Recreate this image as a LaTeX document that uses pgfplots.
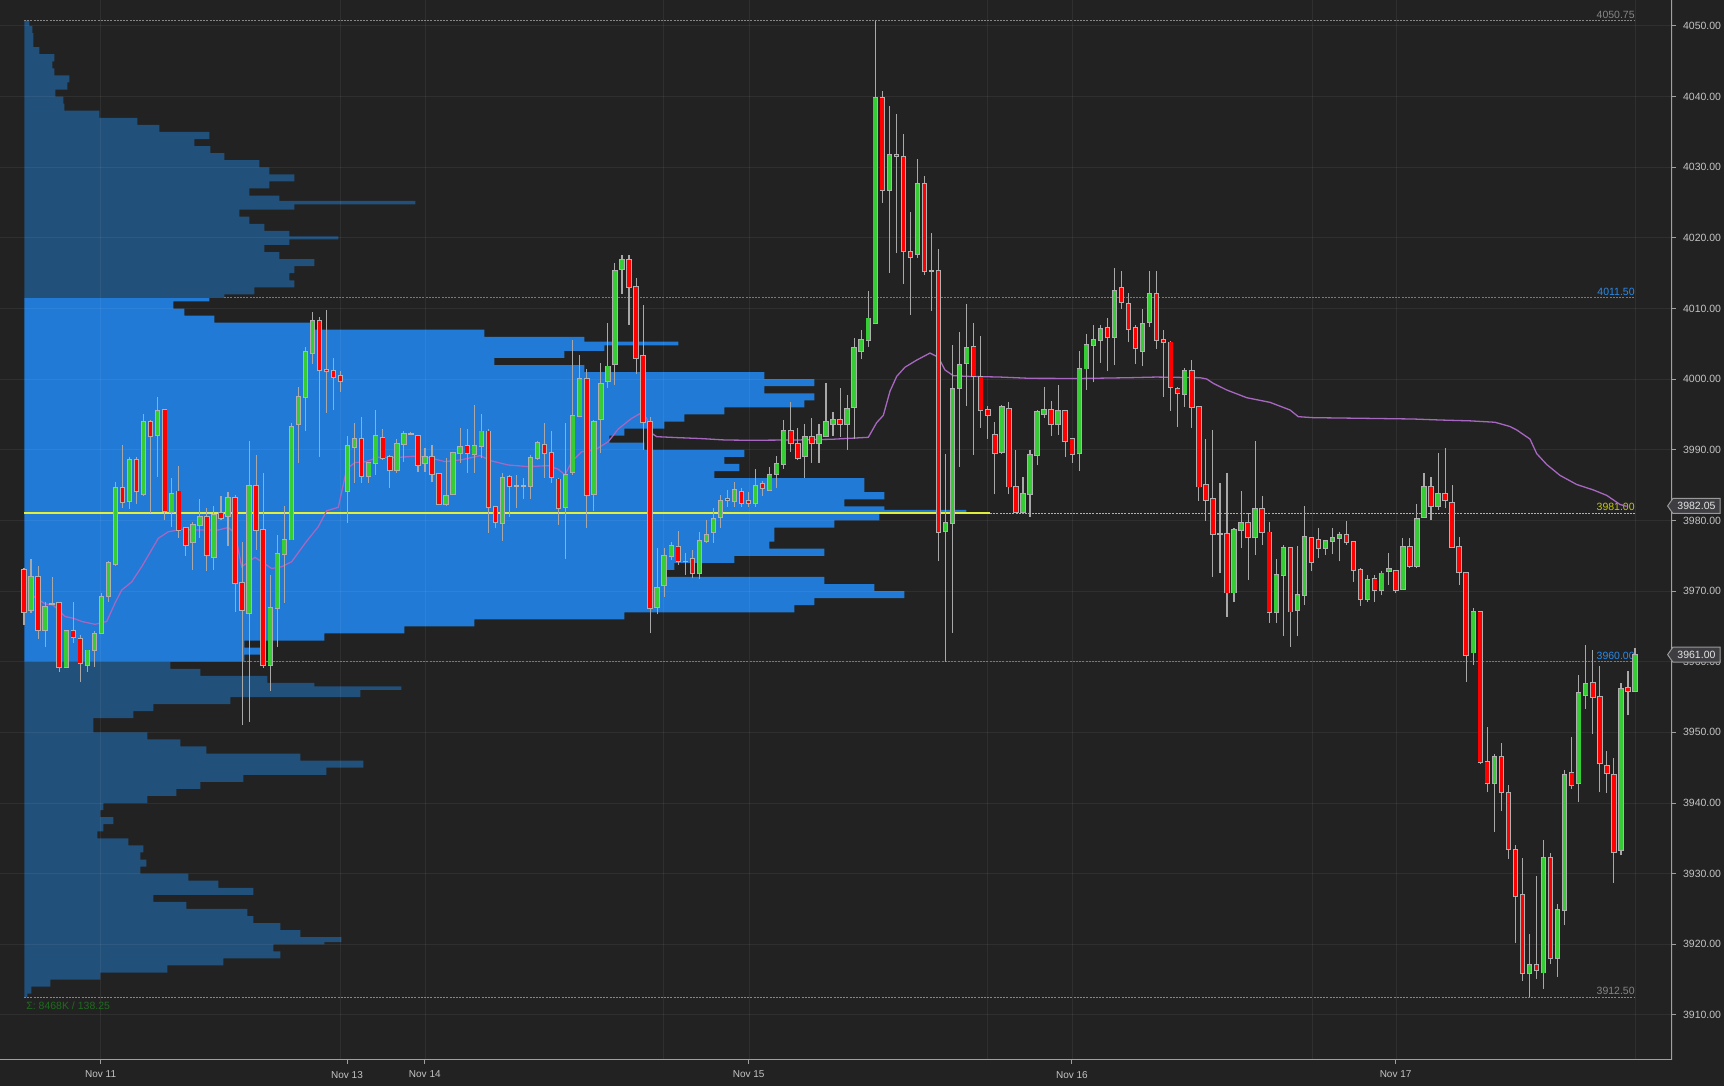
\documentclass[border=0pt]{standalone}
\usepackage{fontspec}
\setmainfont{Liberation Sans}
\usepackage{pgfplots}
\usepackage{pgfplotstable}
\pgfplotsset{compat=1.18}
\usetikzlibrary{shapes.symbols}
\definecolor{bg}{HTML}{222222}
\definecolor{vabright}{HTML}{207AD6}
\definecolor{vadark}{HTML}{21507A}
\definecolor{candG}{HTML}{36CC36}
\definecolor{candR}{HTML}{FF0000}
\definecolor{outc}{HTML}{B0B0B0}
\definecolor{wickc}{HTML}{A8A8A8}
\definecolor{vwapc}{HTML}{A766C0}
\definecolor{tickc}{HTML}{C4C4C4}
\definecolor{axc}{HTML}{A0A0A0}
\definecolor{lvlgray}{HTML}{868686}
\definecolor{lvlblue}{HTML}{2A8AE8}
\definecolor{pocc}{HTML}{E2EE3C}
\definecolor{lvlyel}{HTML}{C8C800}
\definecolor{sumc}{HTML}{1E6B1E}
\definecolor{boxfill}{HTML}{3E3E42}
\definecolor{boxdraw}{HTML}{9A9A9A}
\definecolor{boxtext}{HTML}{E4E4E4}

\pgfplotstableread{
O H L C
3973.0 3973.3 3965.2 3967.0
3967.3 3974.5 3966.9 3972.0
3972.0 3973.5 3963.2 3964.5
3964.5 3968.5 3962.1 3967.8
3968.2 3972.0 3968.0 3968.2
3968.3 3968.5 3958.5 3959.3
3959.3 3964.3 3959.2 3964.3
3964.3 3968.5 3962.6 3963.5
3963.2 3963.8 3957.2 3959.8
3959.5 3961.7 3958.5 3961.6
3961.6 3964.3 3959.3 3963.9
3964.1 3969.7 3963.9 3969.2
3969.3 3974.2 3968.5 3974.0
3973.8 3985.4 3973.5 3984.6
3984.6 3990.7 3981.7 3982.6
3982.8 3989.0 3981.6 3988.5
3988.5 3989.0 3982.4 3984.1
3983.7 3995.0 3983.4 3994.0
3994.0 3994.2 3981.0 3991.9
3992.1 3997.5 3986.2 3995.5
3995.7 3995.8 3980.1 3981.3
3981.2 3986.0 3979.1 3983.7
3984.1 3987.7 3977.5 3978.7
3979.0 3979.1 3974.9 3976.5
3976.9 3979.8 3973.0 3979.3
3979.4 3983.1 3977.5 3980.5
3980.5 3981.7 3972.8 3975.1
3974.8 3982.0 3973.0 3980.8
3981.0 3983.4 3980.1 3980.3
3980.6 3984.0 3976.4 3983.2
3983.2 3983.6 3967.0 3971.1
3971.2 3977.0 3951.0 3967.3
3966.9 3991.3 3951.5 3984.9
3984.9 3989.3 3975.8 3978.7
3978.7 3986.7 3959.1 3959.5
3959.5 3972.3 3955.8 3967.6
3967.6 3977.9 3962.1 3975.3
3975.3 3982.0 3968.3 3977.3
3977.3 3993.8 3977.2 3993.3
3993.7 3998.9 3988.2 3997.5
3997.5 4004.6 3992.6 4003.8
4003.7 4009.5 4002.2 4008.3
4008.3 4008.8 3989.0 4001.3
4001.3 4009.8 3995.2 4001.1
4001.1 4003.0 3995.6 4000.3
4000.5 4001.1 3998.2 3999.7
3984.1 3991.9 3979.6 3990.5
3990.4 3993.8 3985.3 3991.5
3991.5 3994.7 3985.3 3986.3
3986.3 3988.3 3985.3 3988.1
3988.1 3995.6 3986.4 3992.0
3991.7 3993.0 3988.6 3988.9
3989.0 3989.3 3984.6 3987.1
3987.1 3991.5 3986.7 3990.8
3990.8 3992.6 3988.3 3992.2
3992.2 3992.5 3992.1 3992.2
3992.0 3992.1 3986.8 3987.9
3988.1 3990.2 3986.9 3989.0
3989.0 3990.7 3985.4 3986.6
3986.6 3986.7 3982.2 3982.3
3982.3 3988.8 3982.0 3983.5
3983.8 3989.7 3983.6 3989.5
3989.5 3993.1 3988.1 3990.4
3990.5 3993.0 3986.7 3989.5
3989.4 3996.4 3986.7 3990.5
3990.5 3995.0 3988.8 3992.6
3992.6 3992.9 3978.2 3981.9
3981.9 3982.0 3979.0 3979.8
3979.6 3986.7 3977.1 3986.0
3986.2 3986.4 3980.5 3984.9
3984.9 3986.4 3981.7 3984.9
3984.9 3986.0 3983.1 3984.9
3984.9 3989.2 3983.1 3988.8
3988.9 3991.3 3988.6 3991.0
3990.7 3993.8 3986.0 3989.5
3989.5 3992.6 3985.3 3986.1
3985.8 3986.0 3979.4 3981.7
3981.9 3993.8 3974.6 3986.5
3986.8 4005.6 3986.4 3994.8
3994.8 4003.4 3994.8 4000.0
4000.0 4001.5 3979.0 3983.6
3983.7 3994.2 3981.3 3994.0
3994.4 4002.3 3989.5 3999.3
3999.7 4007.9 3998.7 4001.8
4002.1 4016.4 3999.2 4015.3
4015.6 4017.6 4012.0 4016.9
4016.9 4017.6 4007.7 4013.1
4013.1 4014.3 4000.8 4003.0
4003.3 4010.5 3990.0 3993.9
3994.0 3994.7 3964.0 3967.6
3967.8 3976.1 3966.7 3970.5
3970.9 3976.1 3969.2 3975.0
3974.9 3976.9 3974.4 3976.4
3976.3 3978.5 3973.7 3974.2
3974.2 3975.4 3972.3 3974.2
3974.5 3975.8 3971.8 3972.5
3972.5 3978.4 3971.7 3977.1
3977.1 3980.1 3976.8 3978.0
3978.4 3981.7 3976.8 3980.2
3980.5 3983.6 3979.0 3982.8
3983.0 3984.3 3981.9 3982.9
3982.8 3985.5 3981.9 3984.3
3984.0 3984.6 3981.9 3982.5
3982.8 3984.0 3981.9 3982.5
3982.5 3987.3 3981.9 3984.9
3985.2 3985.6 3983.5 3984.6
3984.3 3987.6 3984.3 3986.5
3986.6 3989.1 3984.6 3988.0
3988.0 3994.2 3987.3 3992.7
3992.7 3996.7 3989.7 3990.9
3990.8 3993.1 3988.5 3988.8
3989.1 3993.7 3986.0 3991.8
3991.8 3994.5 3988.2 3990.9
3990.9 3993.6 3988.2 3992.1
3992.0 3999.5 3991.8 3993.9
3993.6 3995.4 3992.0 3994.2
3994.2 3998.7 3991.8 3993.7
3993.7 3997.7 3990.0 3995.8
3996.1 4005.9 3991.5 4004.4
4004.0 4007.0 4002.8 4005.6
4005.6 4012.5 4004.6 4008.6
4008.0 4050.75 4007.9 4039.8
4039.8 4040.8 4025.0 4026.8
4026.8 4038.7 4015.0 4031.7
4031.7 4037.5 4017.8 4031.6
4031.5 4034.7 4013.5 4018.1
4018.0 4023.7 4009.1 4017.3
4017.7 4031.2 4017.2 4027.7
4027.7 4028.7 4014.7 4015.3
4015.3 4020.7 4009.7 4015.3
4015.3 4018.4 3974.2 3978.4
3978.5 3989.4 3960.0 3979.6
3979.6 4004.9 3964.1 3998.6
3998.8 4006.7 3987.6 4002.0
4002.3 4010.7 3996.2 4004.4
4004.6 4008.0 3989.3 4000.5
4000.3 4006.1 3993.1 3995.6
3995.6 3996.2 3991.6 3994.9
3992.1 3994.0 3983.7 3989.6
3989.7 3996.3 3989.4 3996.1
3995.8 3996.8 3983.7 3984.8
3984.8 3990.0 3981.0 3981.2
3981.2 3986.2 3980.9 3983.7
3983.7 3990.0 3980.5 3989.3
3989.3 3995.6 3987.8 3995.3
3995.0 3998.9 3994.5 3995.7
3995.7 3996.9 3992.0 3993.6
3993.6 3999.2 3992.1 3995.5
3995.5 3995.6 3989.0 3991.3
3991.5 3991.6 3988.1 3989.4
3989.5 4004.0 3987.0 4001.5
4001.5 4006.4 3998.5 4004.8
4004.8 4007.7 3999.6 4005.6
4005.6 4007.7 4002.3 4007.1
4007.3 4008.7 4001.1 4005.9
4005.9 4015.7 4002.0 4012.5
4012.9 4015.3 4010.0 4010.9
4010.6 4012.2 4005.2 4007.1
4007.3 4007.7 4002.2 4004.4
4004.0 4009.9 4001.8 4007.8
4008.1 4015.3 4007.4 4012.0
4012.0 4015.3 4004.3 4005.6
4005.6 4007.0 3997.5 4005.2
4005.2 4005.4 3995.5 3998.9
3998.6 3998.9 3993.3 3998.0
3997.9 4001.6 3996.1 4001.1
4001.1 4002.7 3993.1 3996.1
3996.1 3996.2 3982.8 3984.8
3985.0 3991.5 3979.9 3982.9
3983.0 3992.8 3972.0 3978.1
3978.1 3985.3 3972.5 3978.1
3978.1 3986.7 3966.3 3969.8
3969.8 3978.9 3968.5 3978.7
3978.7 3984.2 3976.1 3979.7
3979.7 3981.0 3971.6 3977.6
3977.6 3991.3 3975.1 3981.6
3981.6 3983.4 3976.5 3978.4
3978.3 3979.8 3965.5 3967.0
3967.0 3974.5 3965.5 3972.3
3972.3 3976.5 3963.6 3976.1
3976.1 3976.1 3962.1 3967.1
3967.3 3976.4 3963.6 3969.5
3969.5 3982.0 3968.0 3977.7
3977.5 3977.6 3972.8 3974.1
3977.2 3978.9 3974.7 3976.1
3976.1 3977.1 3975.1 3977.1
3977.1 3978.9 3975.2 3977.5
3977.5 3978.4 3974.2 3978.0
3978.0 3979.9 3976.5 3976.9
3976.9 3977.1 3971.3 3973.0
3973.0 3973.2 3967.9 3968.9
3968.9 3972.3 3968.5 3971.6
3971.7 3972.3 3968.5 3970.2
3970.2 3972.9 3969.4 3972.5
3972.8 3975.4 3970.9 3973.1
3972.8 3973.0 3969.8 3970.2
3970.3 3977.5 3970.2 3976.2
3976.3 3977.5 3973.2 3973.6
3973.6 3982.4 3973.2 3980.2
3980.5 3986.7 3980.5 3984.8
3984.8 3986.2 3980.0 3982.0
3982.0 3989.5 3981.5 3983.8
3983.7 3990.2 3981.7 3982.9
3982.5 3985.0 3976.2 3976.2
3976.3 3977.6 3970.8 3972.7
3972.6 3972.7 3957.2 3961.0
3961.3 3967.6 3959.5 3967.0
3967.0 3967.1 3945.5 3945.8
3945.8 3950.7 3941.5 3942.8
3942.8 3947.0 3935.9 3946.5
3946.5 3948.5 3938.8 3941.5
3941.4 3942.6 3932.1 3933.5
3933.3 3934.1 3920.2 3926.8
3927.0 3932.2 3914.8 3915.9
3915.9 3921.4 3912.5 3917.1
3917.1 3929.6 3915.1 3916.3
3916.0 3934.7 3913.7 3932.2
3932.2 3932.9 3917.2 3918.0
3918.0 3925.7 3915.4 3924.8
3924.8 3944.7 3922.7 3944.0
3944.2 3949.4 3942.0 3942.6
3942.8 3958.1 3940.1 3955.6
3955.3 3962.4 3953.3 3956.8
3957.0 3961.7 3949.8 3955.0
3955.0 3959.4 3941.5 3945.6
3945.2 3947.3 3941.4 3944.3
3944.0 3946.4 3928.7 3933.0
3933.3 3957.0 3932.6 3956.2
3956.3 3958.7 3952.4 3955.9
3955.9 3961.9 3955.8 3961.0
}\ohlc

\pgfplotstableread{
w p
3 3912.5
7 3913
26 3914
76 3915
143 3916
199 3917
256 3918
249 3919
300 3920
317 3920.3
276 3921
256 3922
229 3923
223 3924
162 3925
129 3926
229 3927
194 3928
164 3929
116 3930
122 3931
116 3932
119 3933
104 3934
73 3935
79 3936
89 3937
76 3938
79 3939
123 3940
152 3941
176 3942
219 3943
302 3944
339 3945
276 3946
182 3947
156 3948
123 3949
69 3950
69 3951
109 3952
129 3953
206 3954
336 3955
377 3956
290 3956.5
243 3957
176 3958
146 3959
0 3960
}\profLow

\pgfplotstableread{
w p
220 3960
240 3961
220 3962
300 3963
380 3964
450 3965
600 3966
770 3967
790 3968
880 3969
850 3970
800 3971
640 3972
650 3973
710 3974
800 3975
745 3976
750 3977
750 3978
810 3979
855 3980
942 3981
860 3981.5
820 3982
860 3983
840 3984
840 3985
690 3986
715 3987
700 3988
720 3989
620 3990
585 3991
600 3992
640 3993
660 3994
700 3995
780 3996
790 3997
740 3998
790 3999
740 4000
560 4001
470 4002
540 4003
580 4004
654 4004.8
560 4005.3
460 4006
290 4007
190 4008
160 4009
149 4010
185 4011
0 4011.5
}\profVA

\pgfplotstableread{
w p
200 4011.5
230 4012
270 4013
265 4014
270 4015
290 4016
255 4017
240 4018
265 4019
314 4019.8
265 4020.2
240 4021
225 4022
215 4023
270 4024
391 4024.75
255 4025.25
225 4026
245 4027
270 4028
245 4029
235 4030
200 4031
186 4032
170 4033
185 4034
135 4035
113 4036
75 4037
40 4038
39 4039
31 4040
43 4041
45 4042
30 4043
28 4044
30 4045
15 4046
9 4047
9 4048
8 4049
5 4050
0 4050.75
}\profUp

\pgfplotsset{
  candle/.style={only marks, mark=*, mark size=0pt,
    mark options={draw=none, fill=none}, forget plot},
}

\begin{document}
\begin{tikzpicture}
\fill[bg] (0,-13pt) rectangle (862pt,530pt);
% volume profile
\begin{axis}[at={(0,0)}, anchor=south west, scale only axis,
  width=836pt, height=530pt,
  xmin=-24.3, xmax=1647.7, ymin=3903.62, ymax=4053.68, hide axis]
\addplot[xbar interval, fill=vadark, draw=none] table[x=w, y=p] {\profLow};
\addplot[xbar interval, fill=vabright, draw=none] table[x=w, y=p] {\profVA};
\addplot[xbar interval, fill=vadark, draw=none] table[x=w, y=p] {\profUp};
\end{axis}
% price chart
\begin{axis}[at={(0,0)}, anchor=south west, scale only axis,
  width=836pt, height=530pt,
  xmin=0, xmax=1672, ymin=3903.62, ymax=4053.68,
  axis line style={draw=none},
  ytick={3910,3920,...,4050}, ytick pos=right, yticklabel pos=right,
  xtick={100.6,347,424.8,748.7,1071.9,1395.6},
  xticklabels={Nov 11,Nov 13,Nov 14,Nov 15,Nov 16,Nov 17},
  xtick pos=left, xticklabel pos=left,
  tick align=outside, major tick length=2pt,
  tick style={color=axc, line width=0.5pt},
  ymajorgrids, grid style={white, opacity=0.06, line width=0.5pt},
  scaled y ticks=false,
  /pgf/number format/assume math mode=true,
  yticklabel style={font=\fontsize{5.25}{6}\selectfont, text=tickc,
    /pgf/number format/fixed, /pgf/number format/fixed zerofill,
    /pgf/number format/precision=2, /pgf/number format/1000 sep={}},
  xticklabel style={font=\fontsize{5}{6}\selectfont, text=tickc},
]
% vertical session grid
\pgfplotsinvokeforeach{100,340,425,663,749,987,1072,1312,1396,1635}{
  \draw[white, opacity=0.06, line width=0.5pt] (axis cs:#1,3903.62) -- (axis cs:#1,4053.68);
}
% axis lines
\draw[axc, line width=0.75pt] (rel axis cs:1,0) -- (rel axis cs:1,1);
\draw[axc, line width=0.75pt] (rel axis cs:0,0) -- (rel axis cs:1,0);
% level lines
\addplot[lvlgray, line width=0.5pt, dash pattern=on 1pt off 0.6pt] coordinates {(24,4050.75) (1635,4050.75)};
\addplot[lvlgray, line width=0.5pt, dash pattern=on 1pt off 0.6pt] coordinates {(24,3912.5) (1635,3912.5)};
\addplot[lvlblue, line width=0.5pt, dash pattern=on 1pt off 0.6pt] coordinates {(224,4011.5) (1635,4011.5)};
\addplot[lvlblue, line width=0.5pt, dash pattern=on 1pt off 0.6pt] coordinates {(244,3960) (1635,3960)};
\addplot[lvlyel, line width=0.5pt, dash pattern=on 1pt off 0.6pt] coordinates {(990,3981) (1635,3981)};
\addplot[pocc, line width=1pt] coordinates {(24,3981) (990,3981)};
% level labels
\node[anchor=south east, inner sep=0pt, yshift=1pt, font=\fontsize{5.25}{6}\selectfont, text=lvlgray] at (axis cs:1635,4050.75) {4050.75};
\node[anchor=south east, inner sep=0pt, yshift=1pt, font=\fontsize{5.25}{6}\selectfont, text=lvlblue] at (axis cs:1635,4011.5) {4011.50};
\node[anchor=south east, inner sep=0pt, yshift=1pt, font=\fontsize{5.25}{6}\selectfont, text=lvlyel] at (axis cs:1635,3981) {3981.00};
\node[anchor=south east, inner sep=0pt, yshift=1pt, font=\fontsize{5.25}{6}\selectfont, text=lvlblue] at (axis cs:1635,3960) {3960.00};
\node[anchor=south east, inner sep=0pt, yshift=1pt, font=\fontsize{5.25}{6}\selectfont, text=lvlgray] at (axis cs:1635,3912.5) {3912.50};
\node[anchor=west, inner sep=0pt, font=\fontsize{5.25}{6}\selectfont, text=sumc] at (axis cs:26,3911.3) {Σ: 8468K / 138.25};
% VWAP
\addplot[vwapc, line width=0.65pt] coordinates {
(31.7,3969.45) (45,3968.2) (53.3,3968.0) (65,3966.4) (73.3,3966.15) (81.7,3965.7)
(95,3965.3) (106.7,3965.7) (115,3968.3) (121.7,3970.15) (131.7,3971.3) (141.7,3973.45)
(158.3,3977.47) (168.3,3978.4) (181.7,3978.74) (198.3,3978.65) (218.3,3978.65)
(228.3,3979.0) (235,3978.17) (241.7,3973.45) (255,3974.78) (271.7,3973.2)
(281.7,3973.45) (291.7,3974.16) (305,3976.76) (318.3,3979.12) (326.7,3981.38)
(338.3,3981.86) (346.7,3987.3) (355,3988.2) (365,3988.3) (378.3,3988.94) (395,3988.9)
(418.3,3989.13) (431.7,3988.8) (445,3988.33) (461.7,3988.6) (480,3989.17) (491.7,3988.42)
(508.3,3987.85) (528.3,3987.62) (548.3,3987.76) (558.3,3987.24) (565,3986.44)
(571.7,3988.33) (581.7,3989.74) (595,3989.98) (608.3,3991.16) (618.3,3992.95)
(631.7,3994.46) (641.7,3995.26) (646.7,3994.46) (651.7,3992.34) (656.7,3991.86)
(678.3,3991.72) (700,3991.6) (725,3991.39) (750,3991.35) (800,3991.4) (833,3991.5)
(868.3,3991.77) (876.7,3993.86) (883.3,3994.87) (890,3998.3) (896.7,4000.4) (905,4001.7)
(916.7,4002.7) (930,4003.7) (938.3,4003.1) (945,4001.3) (953.3,4000.5) (966.7,4000.4)
(1000,4000.3) (1030,4000.12) (1080,4000.1) (1130,4000.21) (1156,4000.3) (1200,4000.21)
(1206.7,4000.03) (1213.3,3999.41) (1226.7,3998.47) (1246.7,3997.38) (1270,3996.72)
(1290,3995.64) (1298.3,3994.69) (1313.3,3994.55) (1363.3,3994.46) (1413.3,3994.36)
(1440,3994.22) (1470,3994.1) (1495,3993.9) (1510,3993.3) (1516.7,3992.81) (1530,3991.52)
(1536.7,3989.46) (1546.7,3987.92) (1560,3986.38) (1576.7,3985.09) (1593.3,3984.32)
(1606.7,3983.55) (1620,3982.26) (1626.7,3982.0)
};
% wicks
\addplot[candle,
  error bars/.cd, y dir=plus, y explicit, error mark=none,
  error bar style={color=wickc, line width=0.55pt}]
  table[x expr=24+7.035*\coordindex, y=L, y error plus expr=\thisrow{H}-\thisrow{L}] {\ohlc};
% body outline
\addplot[candle,
  error bars/.cd, y dir=plus, y explicit, error mark=none,
  error bar style={color=outc, line width=2.7pt}]
  table[x expr=24+7.035*\coordindex, y expr={min(\thisrow{O},\thisrow{C})-0.13},
        y error plus expr={abs(\thisrow{C}-\thisrow{O})+0.26}] {\ohlc};
% up bodies
\addplot[candle,
  restrict expr to domain={\thisrow{C}-\thisrow{O}}{0.01:1000},
  error bars/.cd, y dir=plus, y explicit, error mark=none,
  error bar style={color=candG, line width=1.8pt}]
  table[x expr=24+7.035*\coordindex, y expr={min(\thisrow{O},\thisrow{C})},
        y error plus expr={abs(\thisrow{C}-\thisrow{O})}] {\ohlc};
% down bodies
\addplot[candle,
  restrict expr to domain={\thisrow{C}-\thisrow{O}}{-1000:-0.01},
  error bars/.cd, y dir=plus, y explicit, error mark=none,
  error bar style={color=candR, line width=1.8pt}]
  table[x expr=24+7.035*\coordindex, y expr={min(\thisrow{O},\thisrow{C})},
        y error plus expr={abs(\thisrow{C}-\thisrow{O})}] {\ohlc};
\coordinate (pA) at (axis cs:1667,3982.05);
\coordinate (pB) at (axis cs:1667,3961);
\end{axis}
\node[signal, signal to=west, signal pointer angle=110, fill=boxfill, draw=boxdraw,
  line width=0.5pt, text=boxtext, font=\fontsize{5.25}{6}\selectfont,
  inner xsep=2.3pt, inner ysep=0pt, minimum height=7.5pt, anchor=west] at (pA) {3982.05};
\node[signal, signal to=west, signal pointer angle=110, fill=boxfill, draw=boxdraw,
  line width=0.5pt, text=boxtext, font=\fontsize{5.25}{6}\selectfont,
  inner xsep=2.3pt, inner ysep=0pt, minimum height=7.5pt, anchor=west] at (pB) {3961.00};
\pgfresetboundingbox
\useasboundingbox (0,-13pt) rectangle (862pt,530pt);
\end{tikzpicture}
\end{document}
